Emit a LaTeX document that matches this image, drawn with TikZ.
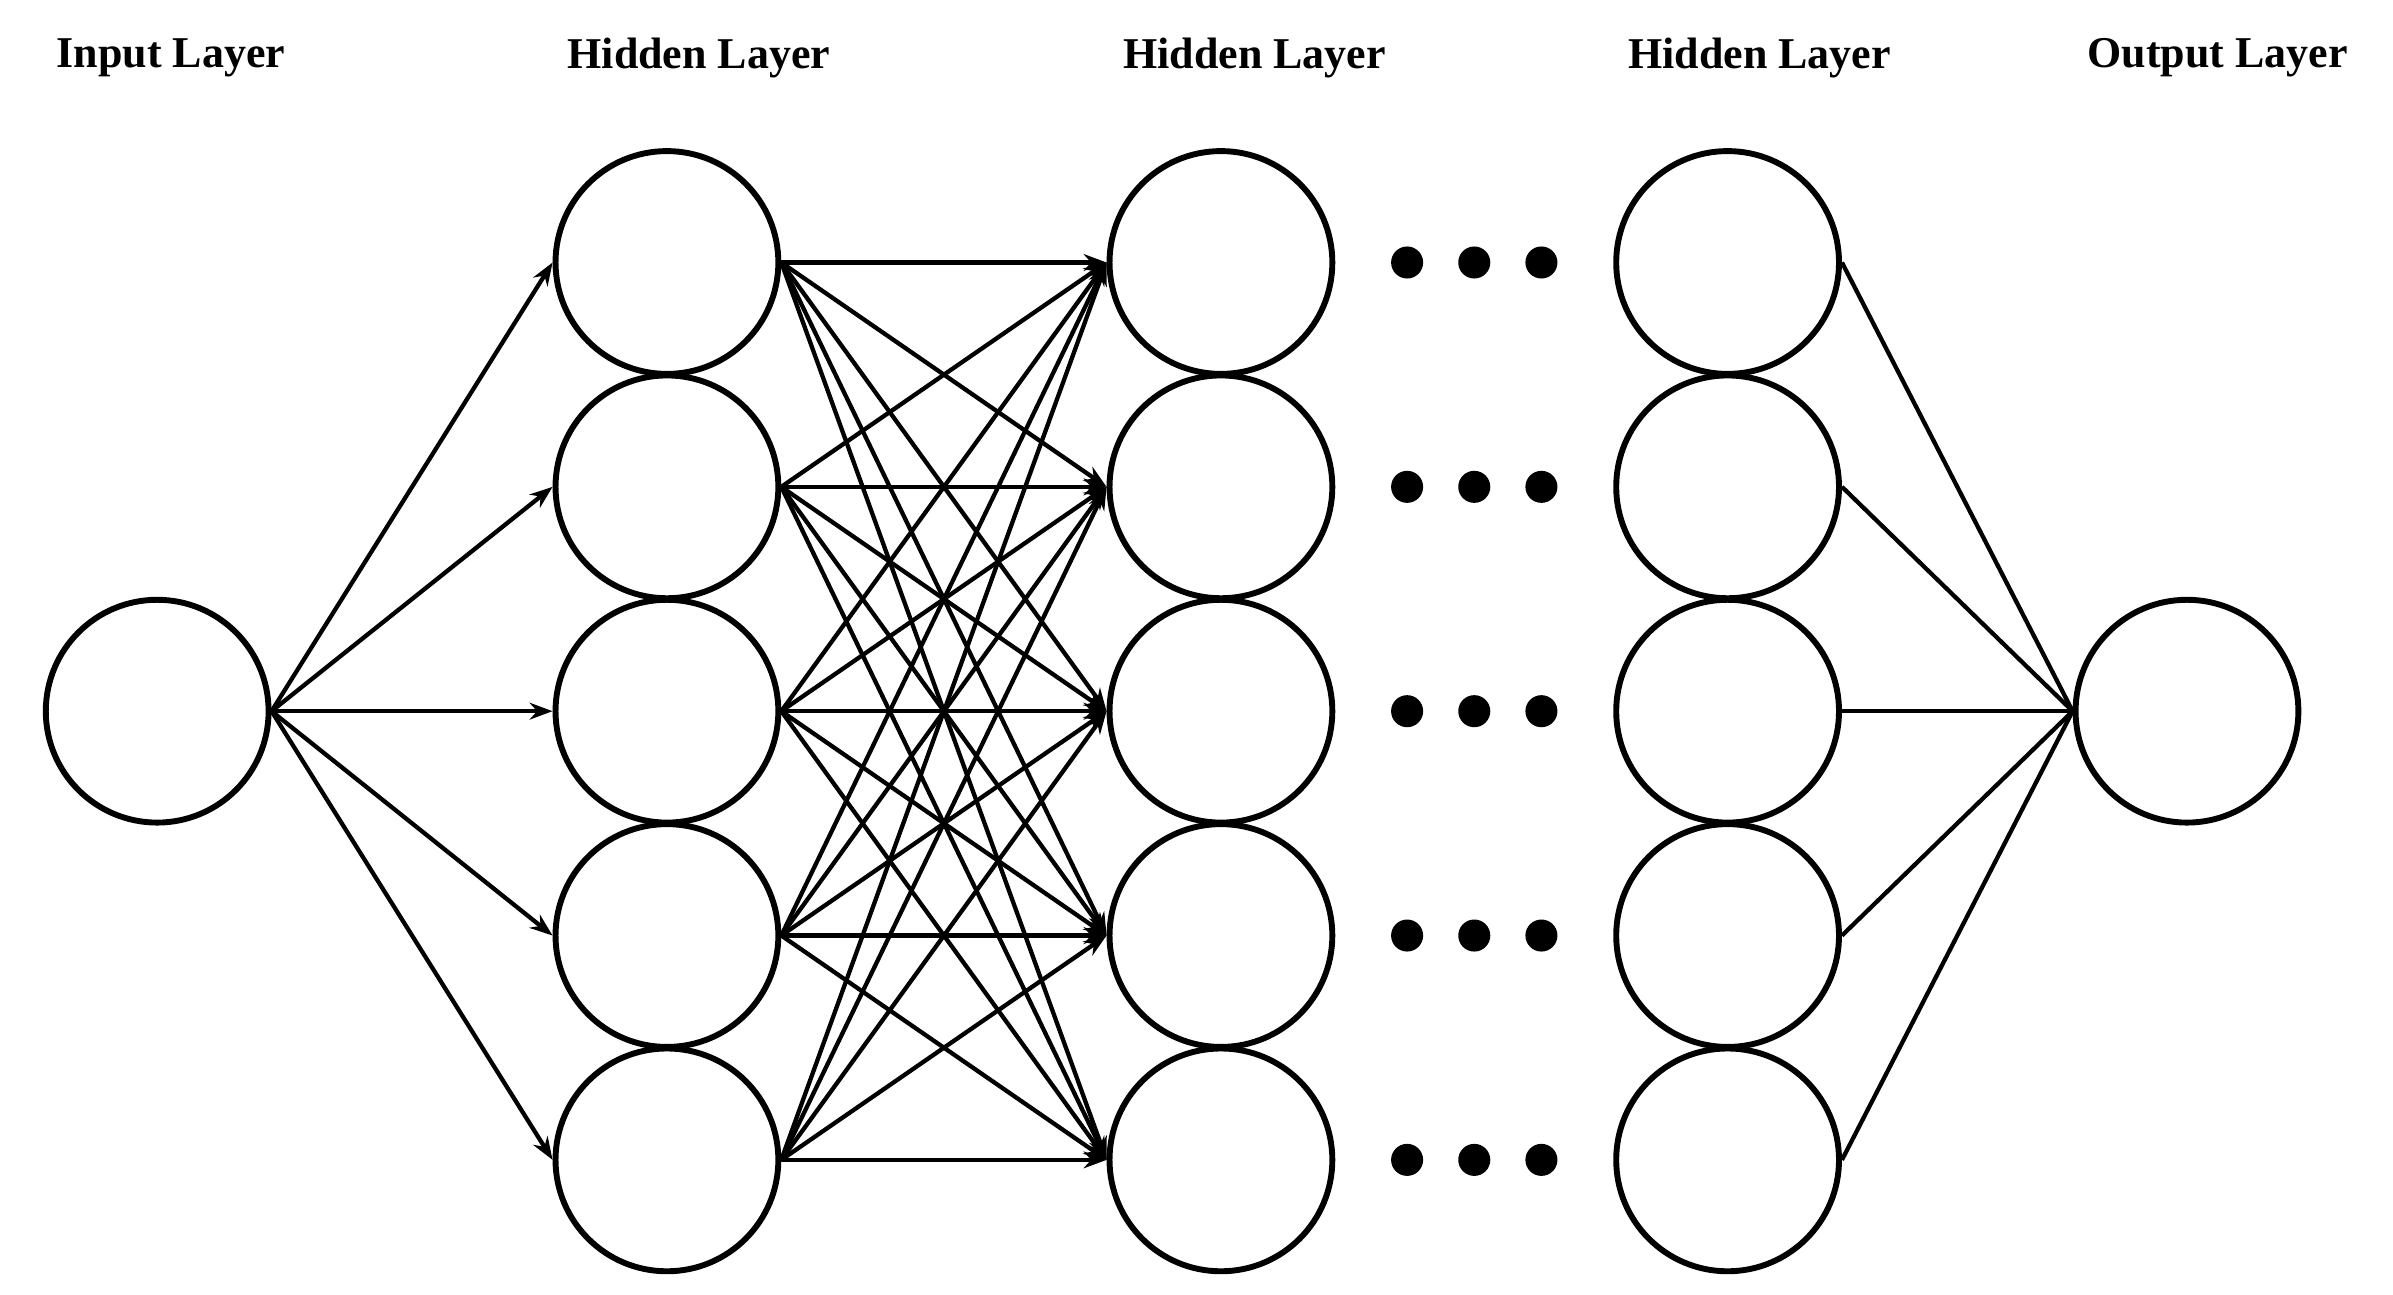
\documentclass[tikz,border=0pt]{standalone}
\usepackage{fontspec}
\setmainfont{Liberation Serif}
\usetikzlibrary{arrows.meta}
\begin{document}
\begin{tikzpicture}[x=0.05cm,y=-0.05cm,
  neuron/.style={circle,draw,line width=5.5pt,minimum size=7.3cm,inner sep=0pt},
  edge/.style={line width=4pt},
  arr/.style={edge,-{Stealth[length=0.75cm,width=0.55cm]}},
  lbl/.style={font=\fontsize{41}{48}\selectfont\bfseries},
  dot/.style={circle,fill,minimum size=1.05cm,inner sep=0pt}]
\useasboundingbox (0,0) rectangle (1568,848);
\node[lbl] (l0) at (112,38) {Input Layer};
\node[lbl] (l1) at (458,38) {Hidden Layer};
\node[lbl] (l2) at (822,38) {Hidden Layer};
\node[lbl] (l3) at (1153,38) {Hidden Layer};
\node[lbl] (l4) at (1453,38) {Output Layer};
\node[neuron] (in) at (103,466) {};
\node[neuron] (out) at (1433,466) {};
\foreach \i/\y in {1/172,2/319,3/466,4/613,5/760}{
  \node[neuron] (a\i) at (437,\y) {};
  \node[neuron] (b\i) at (800,\y) {};
  \node[neuron] (c\i) at (1132,\y) {};
  \node[dot] (d\i1) at (922,\y) {};
  \node[dot] (d\i2) at (966,\y) {};
  \node[dot] (d\i3) at (1010,\y) {};
}
\foreach \i in {1,...,5}{
  \draw[arr] (in.east) -- (a\i.west);
  \draw[edge] (c\i.east) -- (out.west);
  \foreach \j in {1,...,5}{
    \draw[arr] (a\i.east) -- (b\j.west);
  }
}
\end{tikzpicture}
\end{document}
